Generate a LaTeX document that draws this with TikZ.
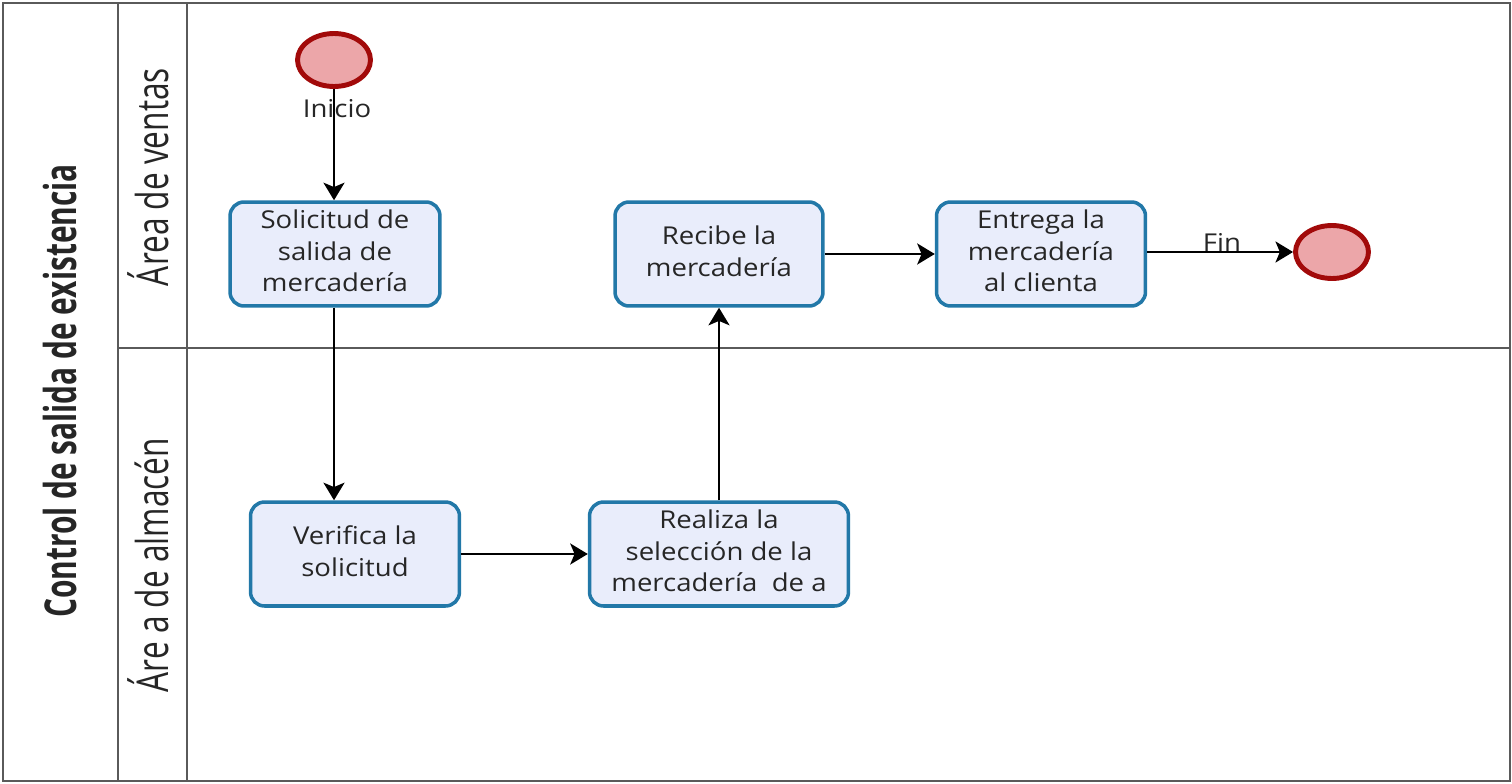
\documentclass[tikz,border=0pt]{standalone}
\usepackage{fontspec}
\setmainfont{Open Sans}
\usepackage{graphicx}
\usetikzlibrary{arrows.meta,shapes.geometric}
\definecolor{taskblue}{HTML}{2278A8}
\definecolor{taskfill}{HTML}{E9EDFB}
\definecolor{evred}{HTML}{A20A0A}
\definecolor{evpink}{HTML}{ECA6A9}
\definecolor{lanegray}{HTML}{5A5A5A}
\tikzstyle{task}=[draw=taskblue,fill=taskfill,line width=2pt,rounded corners=0.28cm,minimum height=2.08cm,inner sep=0pt,text=black!85,font=\fontsize{14}{18}\selectfont]
\tikzstyle{event}=[ellipse,draw=evred,fill=evpink,line width=2.8pt,minimum width=1.46cm,minimum height=1.06cm,inner sep=0pt]
\tikzstyle{flow}=[line width=1.3pt,-{Stealth[length=10pt,width=12pt,inset=2.5pt]}]
\tikzstyle{lane}=[draw=lanegray,line width=1.2pt]
\tikzstyle{lanelabel}=[rotate=90,text=black!85,font=\fontsize{25}{30}\selectfont]
\tikzstyle{flowlabel}=[text=black!85,font=\fontsize{14}{16}\selectfont]
\newcommand{\boxtext}[1]{\scalebox{1.12}[1]{\begin{tabular}{@{}c@{}}#1\end{tabular}}}
\newcommand{\lanetext}[2][0.72]{\scalebox{#1}[1]{#2}}
\begin{document}
\begin{tikzpicture}[x=0.02cm,y=-0.02cm]
  \useasboundingbox (0,0) rectangle (1512,784);
  % pool and lanes
  \draw[lane] (3,3) rectangle (1510,781);
  \draw[lane] (118,3) -- (118,781);
  \draw[lane] (187,3) -- (187,781);
  \draw[lane] (118,348) -- (1510,348);

  \node[lanelabel,font=\fontsize{25}{30}\selectfont\bfseries] (pool) at (60,391) {\lanetext[0.68]{Control de salida de existencia}};
  \node[lanelabel] (ventas)  at (148,177) {\lanetext{Área de ventas}};
  \node[lanelabel] (almacen) at (148,565) {\lanetext{Áre a de almacén}};

  \node[event] (ini) at (334,60) {};
  \node[task,minimum width=4.2cm]  (sol) at (335,254) {\boxtext{Solicitud de\\salida de\\mercadería}};
  \node[task,minimum width=4.18cm] (ver) at (355,554) {\boxtext{Verifica la\\solicitud}};
  \node[task,minimum width=5.18cm] (rea) at (719,554) {\boxtext{Realiza la\\selección de la\\mercadería\ \ de a}};
  \node[task,minimum width=4.16cm] (rec) at (719,254) {\boxtext{Recibe la\\mercadería}};
  \node[task,minimum width=4.18cm] (ent) at (1041,254) {\boxtext{Entrega la\\mercadería\\al clienta}};
  \node[event] (fin) at (1332,252) {};

  \node[flowlabel] (lini) at (337,109) {\scalebox{1.12}[1]{Inicio}};
  \node[flowlabel] (lfin) at (1222,242) {\scalebox{1.12}[1]{Fin}};

  \draw[flow] (ini) -- (ini |- sol.north);
  \draw[flow] (ini |- sol.south) -- (ini |- ver.north);
  \draw[flow] (ver) -- (rea);
  \draw[flow] (rea) -- (rec);
  \draw[flow] (rec) -- (ent);
  \draw[flow] (ent.east |- fin) -- (fin);
\end{tikzpicture}
\end{document}
